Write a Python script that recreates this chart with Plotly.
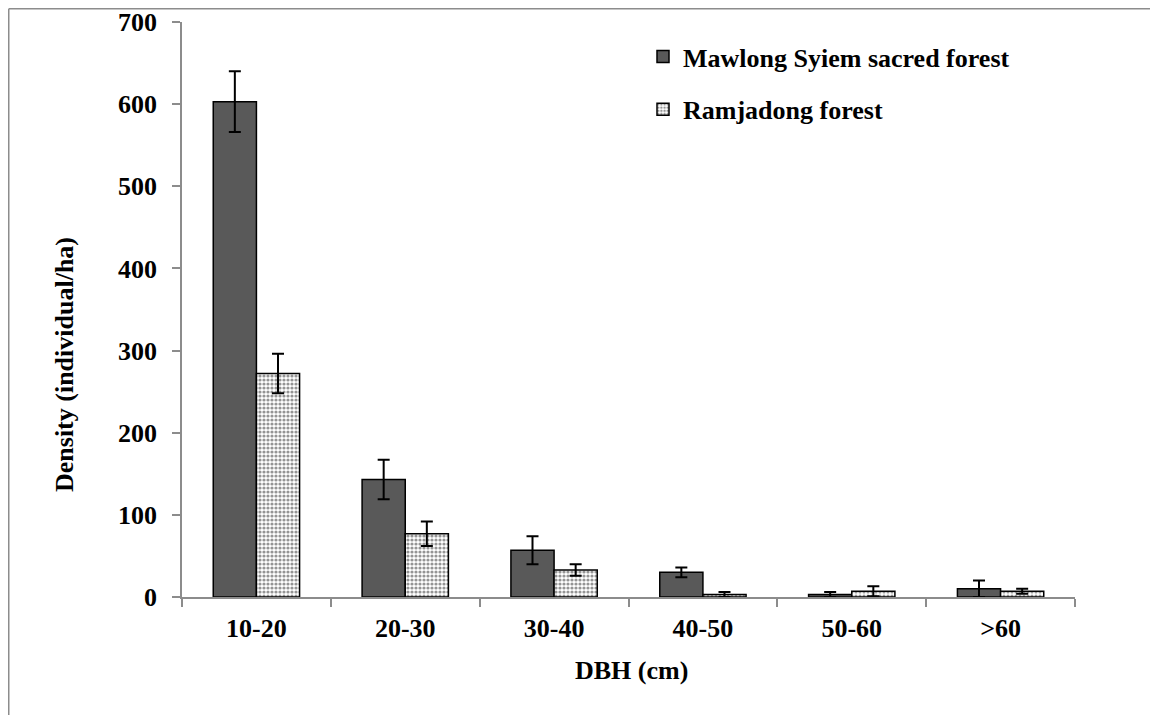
import plotly.graph_objects as go

categories = ["10-20", "20-30", "30-40", "40-50", "50-60", ">60"]
mawlong = [603, 143, 57, 30, 3, 10]
mawlong_err = [37, 24, 17, 6, 3, 10]
ramjadong = [272, 77, 33, 3, 7, 7]
ramjadong_err = [24, 15, 7, 3, 6, 3]
y_ticks = [0, 100, 200, 300, 400, 500, 600, 700]

FONT = "Liberation Serif, Times New Roman, serif"
AXIS_GRAY = "#8c8c8c"

fig = go.Figure()
fig.add_trace(go.Bar(
    x=categories, y=mawlong, name="Mawlong Syiem sacred forest",
    legendgroup="a",
    marker=dict(color="#595959", line=dict(color="#000000", width=1.5)),
    error_y=dict(type="data", array=mawlong_err, color="#000000", thickness=2, width=6),
))
fig.add_trace(go.Bar(
    x=categories, y=ramjadong, name="Ramjadong forest",
    legendgroup="b",
    marker=dict(color="#ffffff", line=dict(color="#000000", width=1.5),
                pattern=dict(shape=".", fgcolor="#2a2a2a", bgcolor="#ffffff",
                             size=4, solidity=0.5)),
    error_y=dict(type="data", array=ramjadong_err, color="#000000", thickness=2, width=6),
))

OFF = 8  # page offset of the figure
W, H = 1150, 707
L, T = 182 - OFF, 22 - OFF
R = W - (1075 - OFF)
B = H - (597 - OFF)
pw, ph = W - L - R, H - T - B

def px(xp):
    return (xp - OFF - L) / pw

def py(yp):
    return 1 - (yp - OFF - T) / ph

fig.update_layout(
    width=W, height=H,
    margin=dict(l=L, r=R, t=T, b=B, autoexpand=False),
    paper_bgcolor="white", plot_bgcolor="white",
    barmode="group", bargap=0.42, bargroupgap=0,
    font=dict(family=FONT, size=26, color="#000000"),
    showlegend=True,
    legend=dict(x=px(643), y=py(33), xanchor="left", yanchor="top",
                traceorder="grouped", tracegroupgap=16,
                font=dict(family=FONT, size=26, color="#000000", weight="bold"),
                bgcolor="rgba(0,0,0,0)"),
    xaxis=dict(type="category", automargin=False, showline=True, linecolor=AXIS_GRAY,
               linewidth=1.5, ticks="outside", tickson="boundaries", ticklen=8,
               tickcolor=AXIS_GRAY, tickwidth=1.5, showgrid=False, zeroline=False,
               ticklabelstandoff=7,
               tickfont=dict(family=FONT, size=26, color="#000000", weight="bold")),
    yaxis=dict(range=[0, 700], tickvals=y_ticks, automargin=False, showline=True,
               linecolor=AXIS_GRAY, linewidth=1.5, ticks="outside", ticklen=8,
               tickcolor=AXIS_GRAY, tickwidth=1.5, showgrid=False, zeroline=False,
               ticklabelstandoff=10,
               tickfont=dict(family=FONT, size=26, color="#000000", weight="bold")),
)

fig.add_annotation(text="<b>DBH (cm)</b>", xref="paper", yref="paper",
                   x=px(631.5), y=py(670), xanchor="center", yanchor="middle",
                   showarrow=False, font=dict(family=FONT, size=26, color="#000000"))
fig.add_annotation(text="<b>Density (individual/ha)</b>", xref="paper", yref="paper",
                   x=px(64), y=py(365), xanchor="center", yanchor="middle",
                   textangle=-90, showarrow=False,
                   font=dict(family=FONT, size=26, color="#000000"))

# outer chart-area border (top and left visible)
fig.add_shape(type="line", xref="paper", yref="paper", x0=px(OFF + 0.75), x1=px(OFF + W + 5),
              y0=py(OFF + 0.75), y1=py(OFF + 0.75), line=dict(color=AXIS_GRAY, width=1.5))
fig.add_shape(type="line", xref="paper", yref="paper", x0=px(OFF + 0.75), x1=px(OFF + 0.75),
              y0=py(OFF + 0.75), y1=py(OFF + H + 5), line=dict(color=AXIS_GRAY, width=1.5))

fig.write_html("out.html")
